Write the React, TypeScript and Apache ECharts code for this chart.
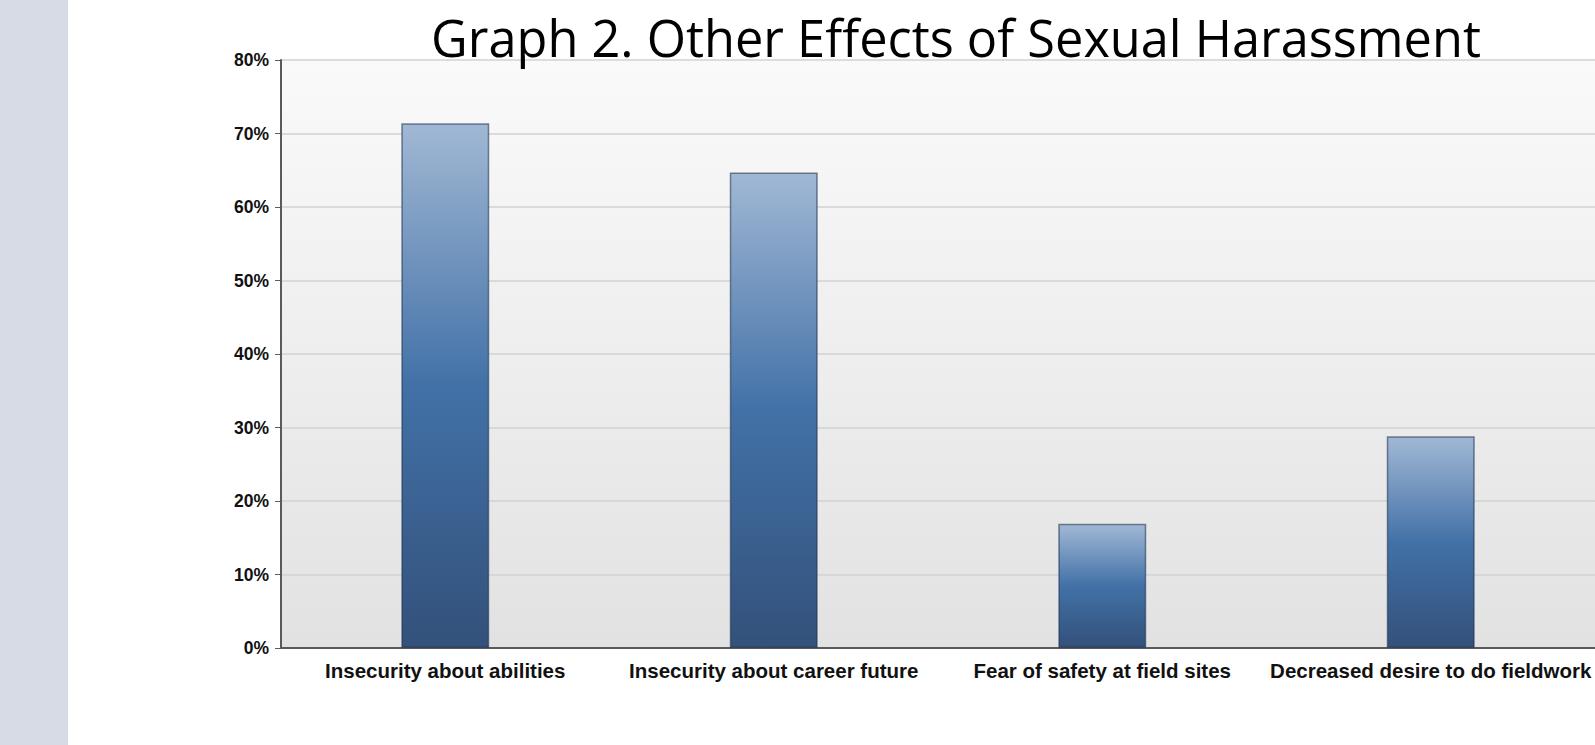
import React, { useEffect, useRef } from "react";
import * as echarts from "echarts";

const categories = [
  "Insecurity about abilities",
  "Insecurity about career future",
  "Fear of safety at field sites",
  "Decreased desire to do fieldwork",
];
const values = [71.4, 64.7, 16.9, 28.8];
const titleText = "Graph 2. Other Effects of Sexual Harassment";

export default function App() {
  const ref = useRef<HTMLDivElement>(null);
  useEffect(() => {
    document.body.style.margin = "0";
    const chart = echarts.init(ref.current!, null, { renderer: "svg" });
    chart.setOption({
      animation: false,
      backgroundColor: "#ffffff",
      grid: {
        left: 281,
        top: 60,
        right: -2,
        bottom: 97,
        show: true,
        borderWidth: 0,
        backgroundColor: new echarts.graphic.LinearGradient(0, 0, 0, 1, [
          { offset: 0, color: "#fafafa" },
          { offset: 1, color: "#e2e2e2" },
        ]),
      },
      xAxis: {
        type: "category",
        data: categories,
        axisLine: { lineStyle: { color: "#5a5a5a", width: 2 } },
        axisTick: { alignWithLabel: true, length: 6, lineStyle: { color: "#5a5a5a" } },
        axisLabel: {
          interval: 0,
          hideOverlap: false,
          color: "#111",
          fontFamily: "Liberation Sans, Arial, sans-serif",
          fontWeight: "bold",
          fontSize: 20.5,
          margin: 12,
        },
      },
      yAxis: {
        type: "value",
        min: 0,
        max: 80,
        interval: 10,
        axisLine: { show: true, lineStyle: { color: "#5a5a5a", width: 2 } },
        axisTick: { show: true, length: 6, lineStyle: { color: "#5a5a5a" } },
        axisLabel: {
          formatter: "{value}%",
          color: "#111",
          fontFamily: "Liberation Sans, Arial, sans-serif",
          fontWeight: "bold",
          fontSize: 17.5,
          margin: 12,
        },
        splitLine: { lineStyle: { color: "#d2d2d2", width: 1.5 } },
      },
      series: [
        {
          type: "bar",
          data: values,
          barWidth: 88,
          itemStyle: {
            color: new echarts.graphic.LinearGradient(0, 0, 0, 1, [
              { offset: 0, color: "#a1b8d4" },
              { offset: 0.5, color: "#4271a7" },
              { offset: 1, color: "#33517a" },
            ]),
            borderColor: "rgba(35,55,85,0.6)",
            borderWidth: 1.5,
          },
        },
      ],
      graphic: [
        {
          type: "rect",
          shape: { x: 0, y: 0, width: 68, height: 745 },
          style: { fill: "#d6dbe5" },
          z: 10,
        },
        {
          type: "text",
          x: 956,
          y: 37,
          z: 20,
          style: {
            text: titleText,
            fill: "#000",
            font: "50.5px 'Open Sans', sans-serif",
            textAlign: "center",
            textVerticalAlign: "middle",
          },
        },
      ],
    });
    return () => chart.dispose();
  }, []);
  return (
    <div
      ref={ref}
      style={{ position: "absolute", left: 0, top: 0, width: 1595, height: 745 }}
    />
  );
}
